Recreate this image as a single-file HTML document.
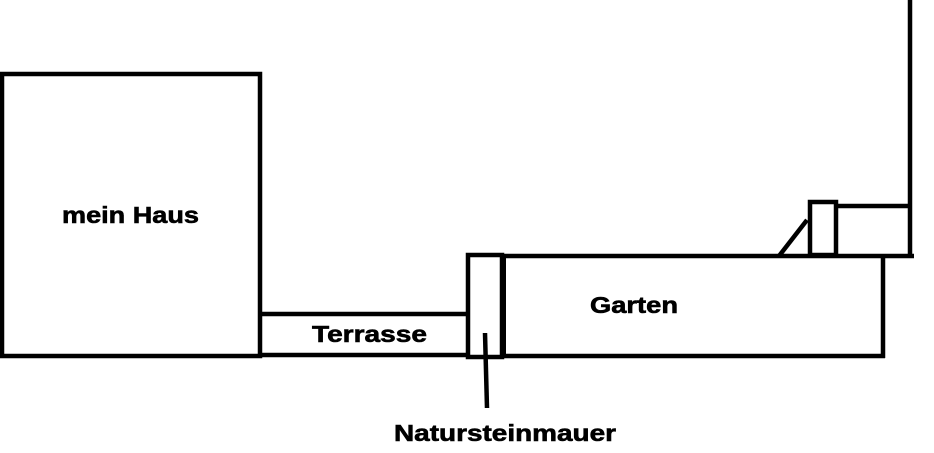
<!DOCTYPE html>
<html><head><style>html,body{margin:0;padding:0;background:#fff;}svg{display:block}</style></head>
<body>
<svg width="934" height="453" viewBox="0 0 934 453" xmlns="http://www.w3.org/2000/svg">
<g fill="none" stroke="#000" stroke-width="4.5" stroke-linecap="butt">
<rect x="2" y="74" width="258" height="282"/>
<line x1="260" y1="314" x2="468" y2="314"/>
<line x1="260" y1="355" x2="468" y2="355"/>
<rect x="468" y="255" width="34" height="102"/>
<line x1="503" y1="255" x2="503" y2="357" stroke-width="6"/>
<line x1="503" y1="256" x2="914" y2="256"/>
<line x1="503" y1="356" x2="885" y2="356"/>
<line x1="883" y1="256" x2="883" y2="358"/>
<rect x="810" y="202" width="26" height="53"/>
<line x1="836" y1="206" x2="908" y2="206"/>
<line x1="910" y1="0" x2="910" y2="258"/>
<line x1="779" y1="256" x2="807" y2="220"/>
<line x1="485" y1="333" x2="487" y2="408"/>
</g>
<g font-family="Liberation Sans, sans-serif" font-weight="bold" font-size="23" fill="#000" stroke="#000" stroke-width="0.6">
<text x="62" y="223" textLength="137" lengthAdjust="spacingAndGlyphs">mein Haus</text>
<text x="312" y="342" textLength="115" lengthAdjust="spacingAndGlyphs">Terrasse</text>
<text x="590" y="313" textLength="88" lengthAdjust="spacingAndGlyphs">Garten</text>
<text x="394" y="441" textLength="222" lengthAdjust="spacingAndGlyphs">Natursteinmauer</text>
</g>
</svg>
</body></html>
